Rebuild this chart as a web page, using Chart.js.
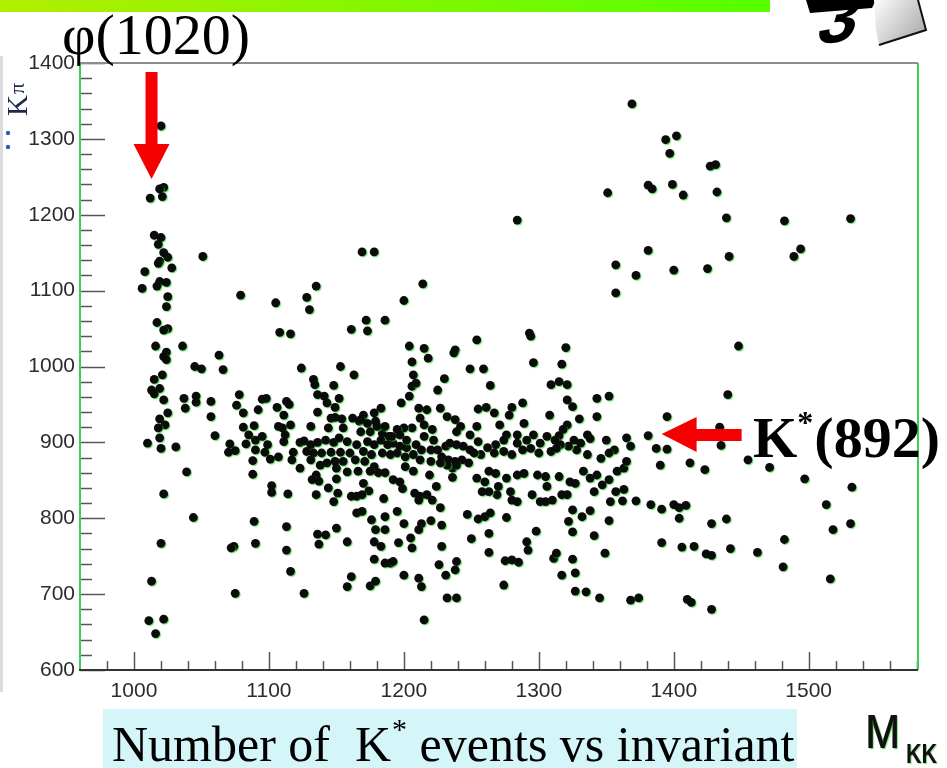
<!DOCTYPE html>
<html>
<head>
<meta charset="utf-8">
<script src="https://cdn.jsdelivr.net/npm/chart.js@4.4.1/dist/chart.umd.min.js"></script>
<style>
  html, body { margin: 0; padding: 0; background: #fff; }
  #wrap { width: 947px; height: 768px; position: relative; overflow: hidden; }
</style>
</head>
<body>
<div id="wrap"><canvas id="chart" width="947" height="768"></canvas></div>
<script>
// Axis ranges and labelled ticks (MeV)
var xRange = [960, 1581];
var yRange = [600, 1400];
var xTicks = [1000, 1100, 1200, 1300, 1400, 1500];
var yTicks = [600, 700, 800, 900, 1000, 1100, 1200, 1300, 1400];

// Candidate events: [M_KK, M_Kpi]
var phiBand = [
  [1020,1317],[1022,1236],[1019,1234],[1021,1224],[1012,1222],[1015,1173],[1020,1170],[1018,1161],
  [1022,1150],[1025,1144],[1019,1139],[1018,1136],[1008,1125],[1028,1130],[1019,1112],[1024,1111],
  [1017,1106],[1006,1103],[1025,1092],[1024,1079],[1017,1058],[1025,1050],[1022,1048],[1016,1027],
  [1024,1019],[1022,1013],[1024,1009],[1015,983],[1021,989],[1013,969],[1019,971],[1015,964],
  [1022,956],[1025,939],[1019,931],[1023,923],[1018,919],[1019,906],[1010,899],[1020,892],
  [1022,832],[1020,767],[1013,717],[1011,665],[1022,667],[1016,648]
];
var upperEvents = [
  [1051,1145],[1036,1027],[1079,1094],[1105,1084],[1128,1091],[1135,1106],[1130,1075],[1108,1045],
  [1116,1043],[1161,1049],[1063,1015],[1369,1346],[1351,1229],[1284,1193],[1169,1151],[1178,1151],
  [1357,1134],[1372,1120],[1357,1097],[1214,1109],[1200,1087],[1172,1061],[1186,1061],[1173,1047],
  [1204,1027],[1215,1024],[1218,1011],[1206,1006],[1238,1022],[1237,1018],[1254,1035],[1293,1044],
  [1294,1040],[1320,1025],[1296,1005],[1317,1003],[1394,1299],[1402,1304],[1397,1281],[1427,1264],
  [1431,1266],[1381,1239],[1384,1234],[1399,1240],[1407,1226],[1432,1230],[1439,1196],[1482,1192],
  [1531,1195],[1381,1153],[1400,1127],[1425,1129],[1441,1145],[1494,1155],[1489,1145],[1448,1027]
];
var kstarBandLow = [
  [1045,1000],[1050,997],[1066,996],[1124,998],[1153,1000],[1163,989],[1037,958],[1046,961],
  [1046,953],[1038,945],[1031,894],[1057,954],[1057,934],[1060,909],[1039,861],[1044,801],
  [1074,763],[1072,761],[1075,701],[1078,963],[1076,949],[1081,939],[1095,957],[1098,958],
  [1092,943],[1106,946],[1113,954],[1115,950],[1111,936],[1081,920],[1089,922],[1085,910],
  [1083,898],[1090,903],[1095,908],[1099,897],[1090,890],[1097,887],[1101,878],[1088,876],
  [1107,881],[1071,898],[1070,887],[1075,889],[1088,858],[1107,921],[1110,919],[1116,923],
  [1112,910],[1111,901],[1118,887],[1117,877],[1123,900],[1123,866],[1131,921],[1133,983],
  [1134,976],[1136,963],[1141,961],[1143,952],[1148,975],[1152,958],[1149,946],[1136,940],
  [1146,932],[1149,933],[1154,931],[1162,932],[1167,928],[1144,919],[1155,919],[1126,902],
  [1131,897],[1136,900],[1142,903],[1148,900],[1152,906],[1158,901],[1165,897],[1128,888],
  [1133,886],[1139,886],[1146,887],[1153,887],[1160,886],[1131,877],[1138,870],[1143,873],
  [1149,875],[1155,875],[1164,877],[1150,866],[1158,861],[1166,862],[1135,857],[1132,851],
  [1137,849],[1144,840],[1150,852],[1151,833],[1135,831],[1148,822],[1161,829],[1165,829],
  [1165,807],[1102,843],[1102,834],[1114,832],[1089,796],[1113,789],[1090,767],[1113,758],
  [1116,730],[1136,779],[1142,778],[1137,766],[1150,787],[1158,769],[1161,723],[1158,710],
  [1126,701]
];
var kstarBandMid = [
  [1249,997],[1259,997],[1207,989],[1230,984],[1206,974],[1209,978],[1225,969],[1204,961],
  [1198,952],[1264,975],[1309,976],[1315,980],[1321,976],[1321,956],[1325,947],[1343,958],
  [1352,961],[1343,934],[1330,931],[1308,936],[1288,952],[1280,946],[1278,936],[1267,939],
  [1255,944],[1261,946],[1183,945],[1178,939],[1170,936],[1168,930],[1173,925],[1179,928],
  [1211,945],[1217,943],[1212,932],[1215,923],[1206,919],[1200,919],[1195,917],[1175,914],
  [1168,914],[1184,912],[1189,908],[1227,945],[1232,934],[1238,930],[1242,921],[1239,914],
  [1254,921],[1271,923],[1289,925],[1321,923],[1318,917],[1315,909],[1336,910],[1338,905],
  [1350,903],[1356,890],[1365,906],[1368,895],[1284,910],[1276,910],[1296,910],[1306,908],
  [1312,903],[1326,903],[1331,899],[1328,890],[1322,895],[1316,897],[1301,899],[1291,903],
  [1284,899],[1274,903],[1268,897],[1262,893],[1257,884],[1267,886],[1274,888],[1280,884],
  [1288,890],[1294,892],[1300,886],[1309,888],[1313,892],[1336,884],[1346,879],[1352,886],
  [1173,901],[1178,897],[1183,903],[1188,897],[1192,899],[1197,895],[1202,893],[1209,897],
  [1213,890],[1220,890],[1225,890],[1231,895],[1234,899],[1239,897],[1244,895],[1249,890],
  [1170,888],[1176,884],[1184,886],[1190,884],[1195,886],[1201,881],[1207,884],[1212,877],
  [1220,875],[1228,881],[1233,877],[1238,875],[1243,877],[1248,873],[1236,866],[1239,870],
  [1232,870],[1227,873],[1171,875],[1178,868],[1175,862],[1181,860],[1186,860],[1201,868],
  [1207,862],[1219,857],[1236,854],[1192,851],[1197,848],[1199,839],[1170,846],[1174,836],
  [1169,831],[1185,826],[1224,842],[1208,833],[1212,829],[1217,831],[1221,824],[1211,824],
  [1180,921],[1186,921],[1191,908],[1197,910],[1202,903],[1215,908],[1221,917],[1222,903],
  [1249,910],[1255,901],[1252,886]
];
var lowerEvents = [
  [1227,814],[1169,809],[1195,809],[1186,802],[1176,798],[1200,793],[1179,785],[1186,785],
  [1213,793],[1220,797],[1228,791],[1211,785],[1205,774],[1196,768],[1178,769],[1183,763],
  [1206,761],[1228,763],[1178,746],[1186,741],[1190,741],[1192,743],[1226,739],[1239,743],
  [1238,732],[1200,725],[1211,721],[1213,710],[1231,725],[1175,711],[1179,717],[1232,695],
  [1239,695],[1215,666],[1254,853],[1263,862],[1268,859],[1260,848],[1270,842],[1269,831],
  [1258,835],[1263,835],[1276,853],[1284,857],[1289,859],[1279,835],[1280,824],[1284,822],
  [1295,831],[1299,857],[1305,855],[1315,855],[1306,842],[1301,822],[1305,822],[1310,824],
  [1317,831],[1321,831],[1323,848],[1327,846],[1333,862],[1338,853],[1343,857],[1347,844],
  [1341,835],[1352,851],[1358,862],[1363,866],[1365,875],[1357,835],[1363,838],[1353,822],
  [1362,823],[1372,823],[1325,811],[1332,802],[1338,810],[1322,796],[1325,782],[1341,777],
  [1352,797],[1349,754],[1247,805],[1255,799],[1260,802],[1264,807],[1276,801],[1250,773],
  [1263,780],[1263,755],[1291,769],[1292,758],[1298,783],[1275,744],[1280,745],[1285,742],
  [1274,712],[1311,747],[1313,754],[1325,746],[1317,725],[1327,728],[1327,704],[1335,703],
  [1345,695],[1368,692],[1374,695]
];
var tailEvents = [
  [1440,963],[1395,934],[1381,909],[1434,920],[1435,896],[1387,892],[1395,891],[1390,870],
  [1412,873],[1423,864],[1455,877],[1471,867],[1497,852],[1532,841],[1383,818],[1391,812],
  [1400,818],[1404,814],[1409,817],[1404,800],[1428,793],[1439,799],[1513,818],[1518,785],
  [1531,793],[1391,768],[1406,762],[1415,763],[1424,753],[1428,751],[1442,760],[1462,755],
  [1482,772],[1481,736],[1516,720],[1410,693],[1413,689],[1428,680]
];

var allEvents = [].concat(phiBand, upperEvents, kstarBandLow, kstarBandMid, lowerEvents, tailEvents);

var SERIF = '"Liberation Serif", "Times New Roman", serif';
var SANS = '"Liberation Sans", Arial, Helvetica, sans-serif';

function polygon(ctx, pts, fill) {
  ctx.beginPath();
  ctx.moveTo(pts[0][0], pts[0][1]);
  for (var i = 1; i < pts.length; i++) ctx.lineTo(pts[i][0], pts[i][1]);
  ctx.closePath();
  ctx.fillStyle = fill;
  ctx.fill();
}

// narrow-looking text: squeeze horizontally around the anchor
function squeezed(ctx, text, x, y, sx, sy) {
  ctx.save();
  ctx.translate(x, y);
  ctx.scale(sx, sy);
  ctx.fillText(text, 0, 0);
  ctx.restore();
}

// slide furniture: header bar, logo, caption box, frame, inward ticks, labels
var slideDecor = {
  id: 'slideDecor',
  beforeDraw: function(chart) {
    var ctx = chart.ctx;
    ctx.save();
    ctx.fillStyle = '#fff';
    ctx.fillRect(0, 0, chart.width, chart.height);
    var g = ctx.createLinearGradient(0, 0, 770, 0);
    g.addColorStop(0, '#b2ee00');
    g.addColorStop(1, '#55ff00');
    ctx.fillStyle = g;
    ctx.fillRect(0, 0, 770, 12);
    // faint edge of the embedded plot
    ctx.fillStyle = '#dcdcdc';
    ctx.fillRect(0, 56, 3, 636);
    // caption panel
    ctx.fillStyle = '#d4f6f8';
    ctx.fillRect(103, 709, 694, 59);
    ctx.restore();
  },
  beforeDatasetsDraw: function(chart) {
    var ctx = chart.ctx;
    ctx.save();
    ctx.shadowColor = 'rgba(40,210,40,0.7)';
    ctx.shadowOffsetX = 1;
    ctx.shadowOffsetY = 1;
    ctx.shadowBlur = 1;
  },
  afterDatasetsDraw: function(chart) {
    var ctx = chart.ctx;
    ctx.restore();
    var a = chart.chartArea, xs = chart.scales.x, ys = chart.scales.y;
    ctx.save();
    // inward ticks, minor every 20
    ctx.lineWidth = 1.5;
    ctx.strokeStyle = '#555';
    for (var v = 600; v <= 1400; v += 20) {
      var py = Math.round(ys.getPixelForValue(v)) + 0.5;
      var len = v % 100 === 0 ? 25 : 12;
      ctx.beginPath(); ctx.moveTo(a.left, py); ctx.lineTo(a.left + len, py); ctx.stroke();
    }
    for (var u = 980; u <= 1580; u += 20) {
      var px = Math.round(xs.getPixelForValue(u)) + 0.5;
      var l2 = u % 100 === 0 ? 18 : 9;
      ctx.beginPath(); ctx.moveTo(px, a.bottom); ctx.lineTo(px, a.bottom - l2); ctx.stroke();
    }
    // frame
    ctx.lineWidth = 2;
    ctx.strokeStyle = '#8d8d8d';
    ctx.beginPath(); ctx.moveTo(a.left, a.top); ctx.lineTo(a.right, a.top); ctx.stroke();
    ctx.strokeStyle = '#3ccf52';
    ctx.beginPath(); ctx.moveTo(a.right, a.top); ctx.lineTo(a.right, a.bottom); ctx.stroke();
    ctx.beginPath(); ctx.moveTo(a.left, a.top); ctx.lineTo(a.left, a.bottom); ctx.stroke();
    ctx.strokeStyle = '#333';
    ctx.beginPath(); ctx.moveTo(a.left - 1, a.bottom); ctx.lineTo(a.right, a.bottom); ctx.stroke();
    ctx.restore();
  },
  afterDraw: function(chart) {
    var ctx = chart.ctx, xs = chart.scales.x, ys = chart.scales.y;
    ctx.save();
    ctx.textBaseline = 'alphabetic';

    // phi(1020) label and arrow
    var tipX = xs.getPixelForValue(1013), tipY = ys.getPixelForValue(1247);
    polygon(ctx, [[tipX - 6, 72], [tipX + 6, 72], [tipX + 6, tipY - 35], [tipX + 18, tipY - 35],
                  [tipX, tipY], [tipX - 18, tipY - 35], [tipX - 6, tipY - 35]], '#f40000');
    ctx.fillStyle = '#000';
    ctx.font = '58px ' + SERIF;
    ctx.fillText('\u03c6(1020)', 62, 54);

    // K*(892) label and arrow
    var kx = xs.getPixelForValue(1391), ky = ys.getPixelForValue(911);
    polygon(ctx, [[kx, ky], [kx + 35, ky - 17], [kx + 35, ky - 5], [kx + 80, ky - 5],
                  [kx + 80, ky + 7], [kx + 35, ky + 7], [kx + 35, ky + 18]], '#f40000');
    ctx.save();
    ctx.translate(753, 457);
    ctx.fillStyle = '#000';
    ctx.font = 'bold 57px ' + SERIF;
    ctx.fillText('K', 0, 0);
    var kw = ctx.measureText('K').width;
    ctx.font = 'bold 32px ' + SERIF;
    ctx.fillText('*', kw, -24);
    var sw = ctx.measureText('*').width;
    ctx.font = 'bold 58px ' + SERIF;
    ctx.fillText('(892)', kw + sw + 1, 0);
    ctx.restore();

    // caption
    ctx.fillStyle = '#000';
    ctx.font = '50px ' + SERIF;
    var cx = 112, cy = 761;
    ctx.fillText('Number of  K', cx, cy);
    cx += ctx.measureText('Number of  K').width;
    ctx.font = '30px ' + SERIF;
    ctx.fillText('*', cx + 1, cy - 22);
    cx += ctx.measureText('*').width + 1;
    ctx.font = '50px ' + SERIF;
    ctx.fillText(' events vs invariant', cx, cy);

    // M_KK axis name
    ctx.save();
    ctx.shadowColor = 'rgba(40,200,40,0.55)';
    ctx.shadowOffsetX = 1; ctx.shadowOffsetY = 1; ctx.shadowBlur = 1;
    ctx.fillStyle = '#111';
    ctx.font = '49px ' + SANS;
    squeezed(ctx, 'M', 865, 748, 0.84, 1);
    squeezed(ctx, 'M', 866, 748, 0.84, 1);
    ctx.font = 'bold 27px ' + SANS;
    squeezed(ctx, 'KK', 906, 763, 0.8, 1);
    ctx.restore();

    // truncated y axis name
    ctx.fillStyle = '#1c2a4c';
    ctx.save();
    ctx.translate(27, 116);
    ctx.rotate(-Math.PI / 2);
    ctx.font = '29px ' + SERIF;
    ctx.fillText('K', 0, 0);
    ctx.font = '22px ' + SERIF;
    ctx.fillText('\u03c0', 22, -3);
    ctx.restore();
    ctx.fillStyle = '#2d5fb0';
    ctx.beginPath(); ctx.arc(8, 133, 2.2, 0, Math.PI * 2); ctx.fill();
    ctx.beginPath(); ctx.arc(8, 147, 2.2, 0, Math.PI * 2); ctx.fill();

    // logo block, top right
    ctx.save();
    ctx.translate(806, 45);
    ctx.transform(1, -0.1, -0.3, 1, 0, 0);
    ctx.fillStyle = '#000';
    ctx.font = 'bold 70px ' + SANS;
    ctx.fillText('3', 8, 0);
    ctx.restore();
    polygon(ctx, [[806, 0], [876, 0], [872, 8], [810, 13]], '#000');
    var lg = ctx.createLinearGradient(872, 0, 927, 40);
    lg.addColorStop(0, '#ffffff');
    lg.addColorStop(1, '#a5a5a5');
    polygon(ctx, [[874, 0], [918, 0], [926, 30], [879, 45], [876, 30]], lg);
    ctx.strokeStyle = '#111';
    ctx.lineWidth = 2;
    ctx.beginPath();
    ctx.moveTo(918, 0); ctx.lineTo(926, 30); ctx.lineTo(879, 45);
    ctx.stroke();

    ctx.restore();
  }
};

var tickFont = { family: SANS, size: 21 };
var plainLabel = function(v) { return String(v); };

new Chart(document.getElementById('chart'), {
  type: 'scatter',
  data: {
    datasets: [{
      data: allEvents.map(function(e) { return { x: e[0], y: e[1] }; }),
      pointRadius: 4.4,
      pointBackgroundColor: '#0b0b0b',
      pointBorderWidth: 0
    }]
  },
  options: {
    responsive: false,
    animation: false,
    layout: { padding: { top: 63, right: 29, bottom: 0, left: 0 } },
    plugins: { legend: { display: false }, tooltip: { enabled: false } },
    scales: {
      x: {
        type: 'linear', min: xRange[0], max: xRange[1],
        afterBuildTicks: function(s) { s.ticks = xTicks.map(function(v) { return { value: v }; }); },
        afterFit: function(s) { s.height = 98; },
        grid: { display: false, drawTicks: false },
        border: { display: false },
        ticks: { padding: 9, color: '#2c2c2c', font: tickFont, maxRotation: 0, callback: plainLabel }
      },
      y: {
        type: 'linear', min: yRange[0], max: yRange[1],
        afterBuildTicks: function(s) { s.ticks = yTicks.map(function(v) { return { value: v }; }); },
        afterFit: function(s) { s.width = 80; },
        grid: { display: false, drawTicks: false },
        border: { display: false },
        ticks: { padding: 5, color: '#2c2c2c', font: tickFont, callback: plainLabel }
      }
    }
  },
  plugins: [slideDecor]
});
</script>
</body>
</html>
